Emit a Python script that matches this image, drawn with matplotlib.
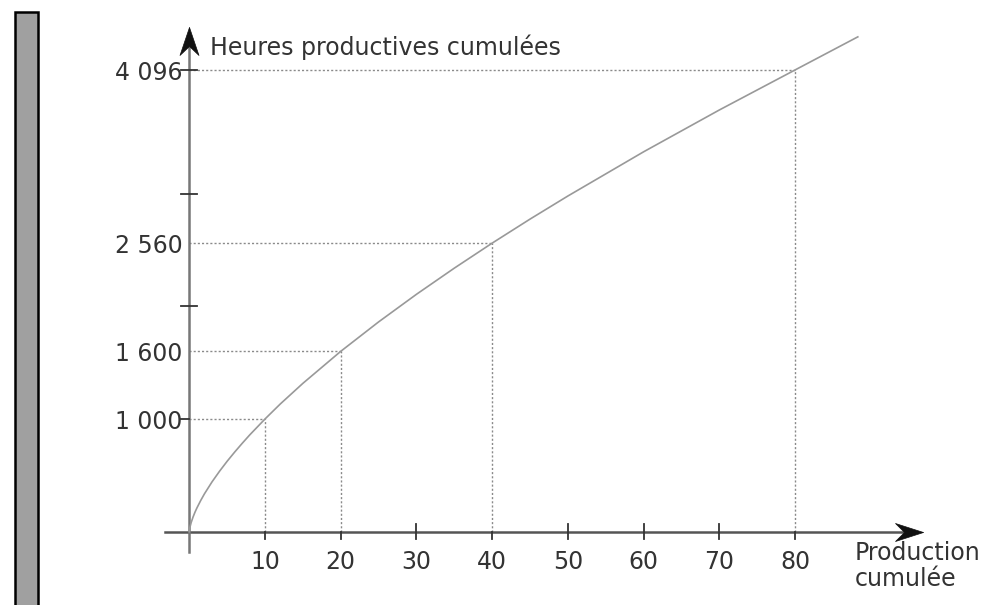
import matplotlib.pyplot as plt
from matplotlib.patches import Rectangle

# curve (cumulative production -> cumulative productive hours)
prod = [0, 0.02, 0.05, 0.1, 0.25, 0.5, 0.75, 1, 1.5, 2, 3, 4, 5, 6, 7, 8, 10, 12, 15,
        20, 25, 30, 35, 40, 45, 50, 60, 70, 80, 88.3]
hours = [0, 15, 28, 44, 82, 131, 173, 210, 276, 336, 442, 537, 625, 707, 785, 860,
         1000, 1132, 1316, 1600, 1861, 2106, 2338, 2560, 2773, 2978, 3370, 3741,
         4096, 4390]

# guide points marked with dotted lines
guide_x = [10, 20, 40, 80]
guide_y = [1000, 1600, 2560, 4096]
guide_labels = ["1 000", "1 600", "2 560", "4 096"]

x_ticks = [10, 20, 30, 40, 50, 60, 70, 80]
y_plain_ticks = [2000, 3000]

txt = "#333333"
fs = 17
px_x = 7.571   # pixels per x unit
px_y = 0.11272  # pixels per y unit

fig = plt.figure(figsize=(9.84, 6.05), dpi=100)
ax = fig.add_axes([0, 0, 1, 1])
ax.set_xlim(-189.3 / px_x, (984 - 189.3) / px_x)
ax.set_ylim(-(605 - 531.7) / px_y, 531.7 / px_y)
ax.axis("off")

# grey bar on the left
fig.add_artist(Rectangle((14.5 / 984, -0.05), 23 / 984, 1.05 - 11.5 / 605,
                         transform=fig.transFigure, facecolor="#a0a0a0",
                         edgecolor="black", linewidth=1.8))

# dotted guides
for gx, gy in zip(guide_x, guide_y):
    ax.plot([0, gx], [gy, gy], color="#8a8a8a", lw=1, ls=(0, (1.5, 1.5)), zorder=2)
    ax.plot([gx, gx], [0, gy], color="#8a8a8a", lw=1, ls=(0, (1.5, 1.5)), zorder=2)

# axes lines
x_tip = (923 - 189.3) / px_x
y_tip = (531.7 - 27) / px_y
ax.plot([-24 / px_x, x_tip - 20 / px_x], [0, 0], color="#555555", lw=1.8, zorder=3)
ax.plot([0, 0], [-20 / px_y, y_tip - 20 / px_y], color="#777777", lw=1.8, zorder=3)

arrow_r = [(0, 0), (-28, 9), (-19, 0), (-28, -9), (0, 0)]
arrow_u = [(0, 0), (-9.5, -28), (0, -19), (9.5, -28), (0, 0)]
ax.plot([x_tip], [0], marker=arrow_r, ms=40.3, color="#111111", mew=0.5, zorder=5)
ax.plot([0], [y_tip], marker=arrow_u, ms=40.3, color="#111111", mew=0.5, zorder=5)

# ticks
tl_y = 7.5 / px_y
tl_x = 8 / px_x
for t in x_ticks:
    top = 0 if t in guide_x else tl_y
    ax.plot([t, t], [-tl_y, top], color=txt, lw=1.3, zorder=4)
    ax.text(t, -(562 - 531.7) / px_y, str(t), ha="center", va="center",
            fontsize=fs, color=txt)
for t in y_plain_ticks + [4096]:
    ax.plot([-tl_x, tl_x], [t, t], color=txt, lw=1.3, zorder=4)
ax.plot([-tl_x, 0], [1000, 1000], color=txt, lw=1.3, zorder=4)

for gy, lab in zip(guide_y, guide_labels):
    ax.text(-0.85, gy - 3 / px_y, lab, ha="right", va="center", fontsize=fs, color=txt)

# curve
ax.plot(prod, hours, color="#999999", lw=1.2, zorder=3)

ax.text(2.73, (531.7 - 55) / px_y, "Heures productives cumulées", ha="left",
        va="baseline", fontsize=fs, color=txt)
ax.text(87.9, -(541 - 531.7) / px_y, "Production\ncumulée", ha="left", va="top",
        fontsize=fs, color=txt, linespacing=1.1)

fig.savefig("out.png", dpi=100)
